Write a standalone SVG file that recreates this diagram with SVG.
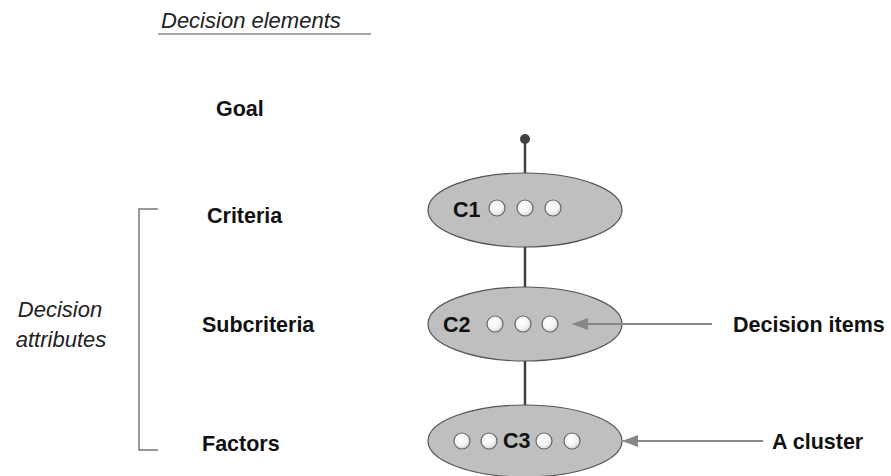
<svg xmlns="http://www.w3.org/2000/svg" width="891" height="476" viewBox="0 0 891 476">
<defs>
<style>
.lbl{font-family:"Liberation Sans",Arial,sans-serif;font-weight:bold;font-size:21.5px;fill:#111}
.it{font-family:"Liberation Sans",Arial,sans-serif;font-style:italic;font-size:22px;fill:#222}
.ell{fill:#bfbfbf;stroke:#555;stroke-width:1.2}
.dot{fill:url(#g);stroke:#666;stroke-width:1.2}
.con{stroke:#404040;stroke-width:2.5;fill:none}
.arr{stroke:#888;stroke-width:2;fill:none;marker-end:url(#ah)}
</style>
<radialGradient id="g" cx="0.4" cy="0.35" r="0.7">
<stop offset="0" stop-color="#ffffff"/>
<stop offset="0.6" stop-color="#f4f4f4"/>
<stop offset="1" stop-color="#d0d0d0"/>
</radialGradient>
<marker id="ah" markerWidth="16" markerHeight="12" refX="15" refY="6" orient="auto" markerUnits="userSpaceOnUse">
<path d="M0,0 L16,6 L0,12 Z" fill="#888"/>
</marker>
</defs>
<rect width="891" height="476" fill="#ffffff"/>

<g id="header">
<text class="it" x="161" y="28">Decision elements</text>
<line x1="158" y1="34" x2="371" y2="34" stroke="#888" stroke-width="1.5"/>
</g>

<g id="attributes">
<text class="it" x="60" y="317" text-anchor="middle">Decision</text>
<text class="it" x="61" y="347" text-anchor="middle">attributes</text>
<path d="M158,209 H139 V450 H158" fill="none" stroke="#777" stroke-width="1.5"/>
</g>

<g id="labels">
<text class="lbl" x="216" y="116">Goal</text>
<text class="lbl" x="207" y="223">Criteria</text>
<text class="lbl" x="202" y="332">Subcriteria</text>
<text class="lbl" x="202" y="451">Factors</text>
</g>

<g id="goal">
<circle cx="525" cy="139" r="5" fill="#404040"/>
</g>

<g id="C1">
<ellipse class="ell" cx="525" cy="210" rx="97" ry="37"/>
<text class="lbl" x="453" y="217">C1</text>
<circle class="dot" cx="497" cy="208" r="8"/>
<circle class="dot" cx="525" cy="208" r="8"/>
<circle class="dot" cx="553" cy="208" r="8"/>
</g>

<g id="C2">
<ellipse class="ell" cx="525" cy="324" rx="97" ry="37"/>
<text class="lbl" x="443" y="332">C2</text>
<circle class="dot" cx="495" cy="324" r="8"/>
<circle class="dot" cx="523" cy="324" r="8"/>
<circle class="dot" cx="550" cy="324" r="8"/>
</g>

<g id="C3">
<ellipse class="ell" cx="525" cy="441" rx="97" ry="36"/>
<text class="lbl" x="503" y="448">C3</text>
<circle class="dot" cx="462" cy="441" r="8"/>
<circle class="dot" cx="489" cy="441" r="8"/>
<circle class="dot" cx="544" cy="441" r="8"/>
<circle class="dot" cx="572" cy="441" r="8"/>
</g>

<g id="connectors">
<line class="con" x1="525" y1="139" x2="525" y2="173"/>
<line class="con" x1="525" y1="247" x2="525" y2="287"/>
<line class="con" x1="525" y1="361" x2="525" y2="405"/>
<line class="arr" x1="712" y1="324" x2="573" y2="324"/>
<line class="arr" x1="763" y1="441" x2="623" y2="441"/>
</g>

<g id="annotations">
<text class="lbl" x="733" y="332">Decision items</text>
<text class="lbl" x="772" y="449">A cluster</text>
</g>
</svg>
